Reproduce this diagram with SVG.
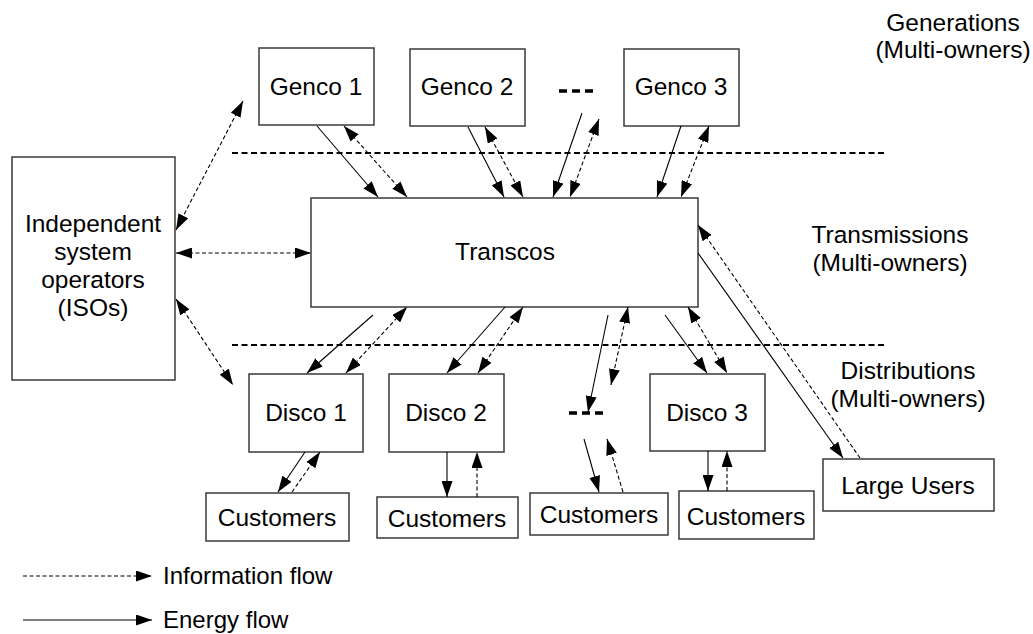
<svg xmlns="http://www.w3.org/2000/svg" width="1033" height="634" viewBox="0 0 1033 634">
  <style>
    .box { fill: #ffffff; stroke: #3a3a3a; stroke-width: 1.5; }
    .lbl { font-family: "Liberation Sans", Arial, sans-serif; font-size: 24.5px; fill: #000; text-anchor: middle; }
    .leg { font-family: "Liberation Sans", Arial, sans-serif; font-size: 24px; fill: #000; }
    .energy { stroke: #000; stroke-width: 1.1; fill: none; marker-end: url(#head); }
    .info { stroke: #000; stroke-width: 1.1; fill: none; stroke-dasharray: 4 2.5; marker-end: url(#head); }
    .both { marker-start: url(#head); }
    .sep { stroke: #000; stroke-width: 2.2; stroke-dasharray: 6 3.5; fill: none; }
    .dots { stroke: #000; stroke-width: 3.5; stroke-dasharray: 8 5; fill: none; }
  </style>
  <defs>
    <marker id="head" viewBox="0 0 16 11" refX="16" refY="5.5" markerWidth="16" markerHeight="11" markerUnits="userSpaceOnUse" orient="auto-start-reverse">
      <path d="M0,0 L16,5.5 L0,11 z" fill="#000"/>
    </marker>
  </defs>

  <!-- layer separators -->
  <line class="sep" x1="232" y1="153" x2="886" y2="153"/>
  <line class="sep" x1="232" y1="345" x2="886" y2="345"/>

  <!-- layer captions -->
  <text class="lbl" x="953" y="31">Generations</text>
  <text class="lbl" x="953" y="58">(Multi-owners)</text>
  <text class="lbl" x="890" y="243">Transmissions</text>
  <text class="lbl" x="890" y="271">(Multi-owners)</text>
  <text class="lbl" x="908" y="379">Distributions</text>
  <text class="lbl" x="908" y="407">(Multi-owners)</text>

  <!-- ellipses standing for further gencos / discos -->
  <line class="dots" x1="559" y1="91" x2="593" y2="91"/>
  <line class="dots" x1="569" y1="413" x2="604" y2="413"/>

  <g id="iso">
    <rect class="box" x="12" y="157" width="163" height="223"/>
    <text class="lbl" x="93" y="232">Independent</text>
    <text class="lbl" x="93" y="260">system</text>
    <text class="lbl" x="93" y="288">operators</text>
    <text class="lbl" x="93" y="316">(ISOs)</text>
  </g>
  <g id="genco1">
    <rect class="box" x="259" y="48" width="115" height="77"/>
    <text class="lbl" x="316" y="95">Genco 1</text>
  </g>
  <g id="genco2">
    <rect class="box" x="410" y="49" width="115" height="77"/>
    <text class="lbl" x="467" y="95">Genco 2</text>
  </g>
  <g id="genco3">
    <rect class="box" x="624" y="49" width="115" height="77"/>
    <text class="lbl" x="681" y="95">Genco 3</text>
  </g>
  <g id="transcos">
    <rect class="box" x="311" y="198" width="387" height="109"/>
    <text class="lbl" x="505" y="260">Transcos</text>
  </g>
  <g id="disco1">
    <rect class="box" x="249" y="374" width="114" height="78"/>
    <text class="lbl" x="306" y="421">Disco 1</text>
  </g>
  <g id="disco2">
    <rect class="box" x="389" y="374" width="115" height="78"/>
    <text class="lbl" x="446" y="421">Disco 2</text>
  </g>
  <g id="disco3">
    <rect class="box" x="650" y="374" width="115" height="77"/>
    <text class="lbl" x="707" y="421">Disco 3</text>
  </g>
  <g id="large-users">
    <rect class="box" x="823" y="459" width="171" height="52"/>
    <text class="lbl" x="908" y="494">Large Users</text>
  </g>
  <g id="customers1">
    <rect class="box" x="206" y="493" width="143" height="48"/>
    <text class="lbl" x="277" y="526">Customers</text>
  </g>
  <g id="customers2">
    <rect class="box" x="377" y="497" width="141" height="41"/>
    <text class="lbl" x="447" y="527">Customers</text>
  </g>
  <g id="customers3">
    <rect class="box" x="530" y="493" width="138" height="42"/>
    <text class="lbl" x="599" y="523">Customers</text>
  </g>
  <g id="customers4">
    <rect class="box" x="679" y="491" width="135" height="48"/>
    <text class="lbl" x="746" y="525">Customers</text>
  </g>

  <g id="connectors">
    <!-- generation to transmission -->
    <line class="energy" x1="317" y1="126" x2="378" y2="197"/>
    <line class="info both" x1="344" y1="126" x2="407" y2="197"/>
    <line class="energy" x1="468" y1="127" x2="504" y2="197"/>
    <line class="info both" x1="485" y1="127" x2="523" y2="197"/>
    <line class="energy" x1="582" y1="113" x2="553" y2="197"/>
    <line class="info both" x1="599" y1="119" x2="570" y2="197"/>
    <line class="energy" x1="681" y1="126" x2="657" y2="197"/>
    <line class="info both" x1="709" y1="126" x2="681" y2="197"/>

    <!-- ISO links -->
    <line class="info both" x1="243" y1="101" x2="176" y2="230"/>
    <line class="info both" x1="176" y1="253" x2="311" y2="253"/>
    <line class="info both" x1="176" y1="299" x2="233" y2="385"/>

    <!-- transmission to large users -->
    <line class="energy" x1="698" y1="253" x2="843" y2="458"/>
    <line class="info" x1="860" y1="458" x2="698" y2="225"/>

    <!-- transmission to distribution -->
    <line class="energy" x1="373" y1="315" x2="307" y2="373"/>
    <line class="info both" x1="346" y1="373" x2="407" y2="307"/>
    <line class="energy" x1="505" y1="307" x2="447" y2="373"/>
    <line class="info both" x1="478" y1="373" x2="523" y2="307"/>
    <line class="energy" x1="608" y1="315" x2="588" y2="412"/>
    <line class="info both" x1="628" y1="307" x2="611" y2="385"/>
    <line class="energy" x1="665" y1="315" x2="707" y2="373"/>
    <line class="info both" x1="688" y1="307" x2="727" y2="373"/>

    <!-- distribution to customers -->
    <line class="energy" x1="305" y1="452" x2="278" y2="492"/>
    <line class="info" x1="292" y1="492" x2="320" y2="452"/>
    <line class="energy" x1="447" y1="452" x2="447" y2="497"/>
    <line class="info" x1="477" y1="497" x2="477" y2="452"/>
    <line class="energy" x1="584" y1="439" x2="599" y2="492"/>
    <line class="info" x1="623" y1="492" x2="607" y2="439"/>
    <line class="energy" x1="708" y1="451" x2="708" y2="491"/>
    <line class="info" x1="727" y1="491" x2="727" y2="451"/>
  </g>

  <!-- legend -->
  <g id="legend">
    <line class="info" x1="23" y1="576" x2="152" y2="576"/>
    <text class="leg" x="163" y="584">Information flow</text>
    <line class="energy" x1="23" y1="620" x2="152" y2="620"/>
    <text class="leg" x="163" y="628">Energy flow</text>
  </g>
</svg>
